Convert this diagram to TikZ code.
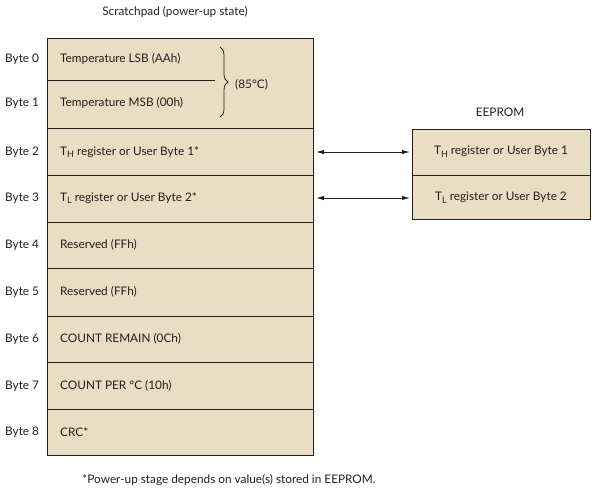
\documentclass[tikz,border=0pt]{standalone}
\usepackage{fontspec}
\setmainfont{Lato}
\usetikzlibrary{arrows.meta,decorations.pathreplacing}
\definecolor{boxfill}{RGB}{233,221,196}
\definecolor{ink}{RGB}{35,31,32}
\newcommand{\sbs}[1]{\raisebox{-0.45ex}{\fontsize{9}{9}\selectfont #1}}
\tikzset{
  txt/.style={font=\fontsize{11.8}{13}\selectfont, text=ink, inner sep=0pt},
  cell/.style={draw=ink, line width=1pt, fill=boxfill},
  conn/.style={draw=ink, line width=1pt, {Latex[length=8pt,width=4.5pt]}-{Latex[length=8pt,width=4.5pt]}},
}
\begin{document}
\begin{tikzpicture}[x=1pt,y=-1pt]
\useasboundingbox (0,0) rectangle (595,499);
% scratchpad rows
\path[cell] (47,38) rectangle (313,128);
\path[cell] (47,128) rectangle (313,175);
\path[cell] (47,175) rectangle (313,222);
\path[cell] (47,222) rectangle (313,268);
\path[cell] (47,268) rectangle (313,316);
\path[cell] (47,316) rectangle (313,362);
\path[cell] (47,362) rectangle (313,409);
\path[cell] (47,409) rectangle (313,455);
\draw[ink, line width=1pt] (47,80) -- (215,80);
% EEPROM
\path[cell] (412,129) rectangle (590,175.5);
\path[cell] (412,175.5) rectangle (590,219.5);
\coordinate (e2w) at (410,152);
\coordinate (e3w) at (410,198);
\coordinate (s2e) at (316,152);
\coordinate (s3e) at (316,198);
% titles
\node[txt] (title) at (175,12) {Scratchpad (power-up state)};
\node[txt] (eeprom) at (500,112) {EEPROM};
% byte labels
\foreach \i/\y in {0/59,1/103,2/152,3/198,4/245,5/292,6/339,7/386,8/432}
  \node[txt, anchor=west] (b\i) at (5,\y) {Byte \i};
% row texts
\node[txt, anchor=west] (r0) at (60,59) {Temperature LSB (AAh)};
\node[txt, anchor=west] (r1) at (60,103) {Temperature MSB (00h)};
\node[txt, anchor=west] (r2) at (60,152) {T\sbs{H} register or User Byte 1*};
\node[txt, anchor=west] (r3) at (60,198) {T\sbs{L} register or User Byte 2*};
\node[txt, anchor=west] (r4) at (60,245) {Reserved (FFh)};
\node[txt, anchor=west] (r5) at (60,292) {Reserved (FFh)};
\node[txt, anchor=west] (r6) at (60,339) {COUNT REMAIN (0Ch)};
\node[txt, anchor=west] (r7) at (60,386) {COUNT PER °C (10h)};
\node[txt, anchor=west] (r8) at (60,432) {CRC*};
\node[txt] (e1) at (501,152) {T\sbs{H} register or User Byte 1};
\node[txt] (e2) at (501,198) {T\sbs{L} register or User Byte 2};
% brace
\draw[ink, line width=0.8pt, decorate, decoration={brace, amplitude=8pt}] (220,47) -- (220,117);
\node[txt, anchor=west] (deg) at (235,85) {(85°C)};
% arrows
\draw[conn] (s2e) -- (e2w);
\draw[conn] (s3e) -- (e3w);
% footnote
\node[txt] (foot) at (229,480) {*Power-up stage depends on value(s) stored in EEPROM.};
\end{tikzpicture}
\end{document}
